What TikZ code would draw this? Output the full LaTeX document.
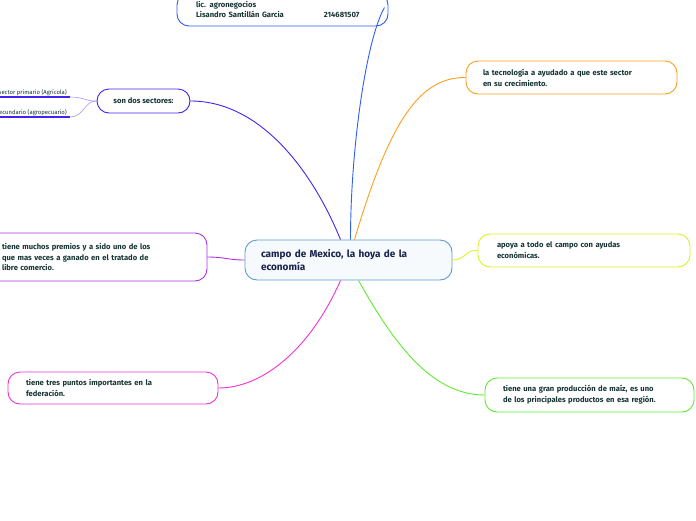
\documentclass[tikz,border=0pt]{standalone}
\usepackage{fontspec}
\setmainfont{Fira Sans}
\usetikzlibrary{positioning}

\definecolor{inkgreen}{RGB}{22,52,52}
\definecolor{inknavy}{RGB}{25,35,75}
\definecolor{topblue}{RGB}{47,94,240}
\definecolor{secblue}{RGB}{70,34,238}
\definecolor{seclight}{RGB}{165,150,250}
\definecolor{premviolet}{RGB}{170,51,230}
\definecolor{hubblue}{RGB}{95,155,210}
\definecolor{hubfill}{RGB}{246,250,253}
\definecolor{techorange}{RGB}{250,160,30}
\definecolor{aidyellow}{RGB}{222,240,40}
\definecolor{maizgreen}{RGB}{95,235,45}
\definecolor{fedpink}{RGB}{240,50,210}

\begin{document}
\begin{tikzpicture}[
  x=1pt, y=-1pt,
  font=\bfseries\fontsize{7.6}{10.8}\selectfont,
  topic/.style={draw, line width=0.9pt, rounded corners=12pt, fill=white, text=inkgreen, align=left},
  leaf/.style={inner sep=1pt, text=inkgreen, font=\fontsize{5.9}{6.5}\selectfont},
  link/.style={line width=0.9pt}
]
\useasboundingbox (0,0) rectangle (696,520);

\node[topic, draw=hubblue, fill=hubfill, text=inknavy, font=\bfseries\fontsize{10}{13}\selectfont,
  minimum width=207pt, minimum height=40pt, text width=175pt, inner xsep=16pt] (hub) at (348.5,260)
  {campo de Mexico, la hoya de la\\economía};

\node[topic, draw=topblue, minimum width=211pt, minimum height=33pt, text width=173pt, inner xsep=19pt] (autor) at (282.5,9.5)
  {lic. agronegocios\\Lisandro Santillán Garcia\hspace{40pt}214681507};

\node[topic, draw=secblue, minimum width=93pt, minimum height=24pt, align=center] (sectores) at (143.5,101)
  {son dos sectores:};

\node[leaf, anchor=south east] (primario) at (68,97) {sector primario (Agrícola)};
\node[leaf, anchor=south east] (secundario) at (68,117) {secundario (agropecuario)};

\node[topic, draw=premviolet, minimum width=225pt, minimum height=48pt, text width=185pt, inner xsep=20pt] (premios) at (94.5,257)
  {tiene muchos premios y a sido uno de los\\que mas veces a ganado en el tratado de\\libre comercio.};

\node[topic, draw=techorange, minimum width=211pt, minimum height=33pt, text width=177pt, inner xsep=17pt] (tecno) at (571.5,77.5)
  {la tecnología a ayudado a que este sector\\en su crecimiento.};

\node[topic, draw=aidyellow, minimum width=212pt, minimum height=33pt, text width=174pt, inner xsep=19pt] (ayudas) at (584,250.5)
  {apoya a todo el campo con ayudas\\económicas.};

\node[topic, draw=maizgreen, minimum width=209pt, minimum height=34pt, text width=173pt, inner xsep=18pt] (maiz) at (589.5,395)
  {tiene una gran producción de maíz, es uno\\de los principales productos en esa región.};

\node[topic, draw=fedpink, minimum width=210pt, minimum height=32pt, text width=174pt, inner xsep=18pt] (puntos) at (113,388)
  {tiene tres puntos importantes en la\\federación.};

\draw[link, topblue] ([xshift=2pt]hub.north) .. controls ([xshift=2pt,yshift=90pt]hub.north) and (366,40) .. ([xshift=-4pt,yshift=2pt]autor.east);
\draw[link, techorange] ([xshift=6pt]hub.north) .. controls (390,120) and (420,77) .. (tecno.west);
\draw[link, secblue] (sectores.east) .. controls (260,101) and (312,170) .. ([xshift=-8pt]hub.north);
\draw[link, premviolet] (premios.east) .. controls (225,257) and (228,260) .. (hub.west);
\draw[link, aidyellow] (hub.east) .. controls (466,260) and (464,250) .. (ayudas.west);
\draw[link, maizgreen] ([xshift=10pt]hub.south) .. controls (392,340) and (430,395) .. (maiz.west);
\draw[link, fedpink] ([xshift=-8pt]hub.south) .. controls (310,350) and (262,388) .. (puntos.east);

\draw[line width=1.8pt, secblue] ([xshift=-20pt]primario.south west) -- ([xshift=2pt]primario.south east);
\draw[line width=1.8pt, secblue] ([xshift=-20pt]secundario.south west) -- ([xshift=2pt]secundario.south east);
\draw[line width=0.6pt, seclight] ([xshift=2pt]primario.south east) .. controls (84,97) and (84,101) .. (sectores.west);
\draw[line width=0.6pt, seclight] ([xshift=2pt]secundario.south east) .. controls (84,117) and (84,101) .. (sectores.west);
\end{tikzpicture}
\end{document}
